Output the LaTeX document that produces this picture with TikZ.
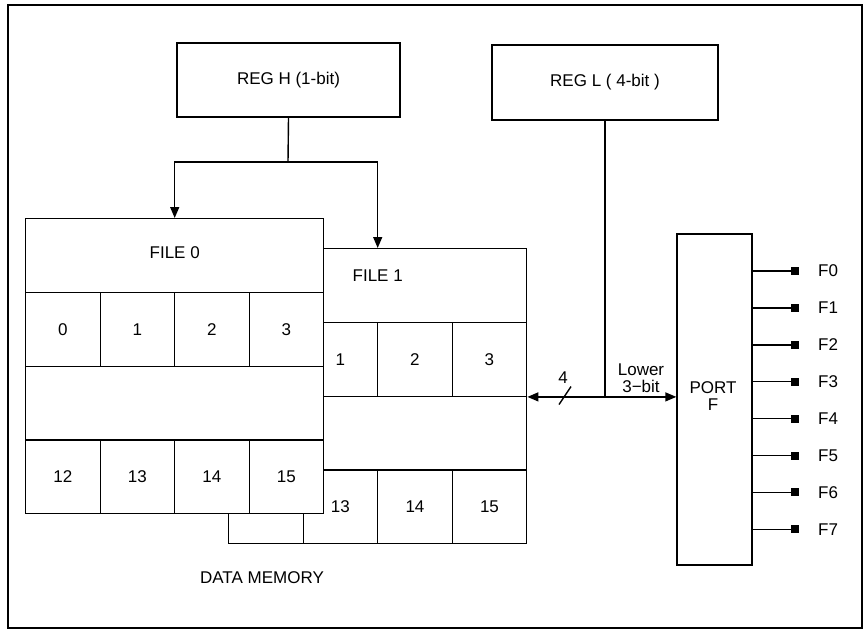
\documentclass[tikz,border=0pt]{standalone}
\usepackage{fontspec}
\setmainfont{Liberation Sans}
\usetikzlibrary{arrows.meta}
\begin{document}
\begin{tikzpicture}[x=1pt,y=-1pt,
  every node/.style={font=\fontsize{17}{17.5}\selectfont},
  ln/.style={line width=1.4pt},
  box/.style={draw, line width=1.4pt, fill=white, inner sep=0pt},
  cell/.style={box, minimum width=74.5pt, minimum height=73.75pt, anchor=north west},
  wide/.style={box, minimum width=298pt, minimum height=73.75pt, anchor=north west},
  arr/.style={line width=1.4pt, -{Triangle[length=11pt,width=9pt]}},
  darr/.style={line width=1.4pt, {Triangle[length=11pt,width=9pt]}-{Triangle[length=11pt,width=9pt]}},
  pinsq/.style={fill=black, minimum width=8pt, minimum height=8pt, inner sep=0pt},
  txt/.style={inner sep=0pt}]
\useasboundingbox (0,0) rectangle (865,638);
% outer frame
\draw[line width=1.6pt] (8,5) rectangle (862,628);

% registers
\node[box, minimum width=223pt, minimum height=74pt] (regh) at (288.5,80) {REG H (1-bit)};
\node[box, minimum width=226pt, minimum height=75pt] (regl) at (605,82.5) {REG L ( 4-bit )};

% FILE 1 (behind)
\begin{scope}[shift={(228,248)}]
  \node[wide] (f1t) at (0,0) {};
  \foreach \i/\t in {0/,1/1,2/2,3/3} \node[cell] (f1a\i) at (74.5*\i,73.75) {\t};
  \node[wide] (f1m) at (0,147.5) {};
  \foreach \i/\t in {0/,1/13,2/14,3/15} \node[cell] (f1b\i) at (74.5*\i,221.25) {\t};
\end{scope}
\node[txt] (f1lab) at ([yshift=10pt]f1t.center) {FILE 1};

% FILE 0 (front)
\begin{scope}[shift={(25,218)}]
  \node[wide] (f0t) at (0,0) {};
  \foreach \i/\t in {0/0,1/1,2/2,3/3} \node[cell] (f0a\i) at (74.5*\i,73.75) {\t};
  \node[wide] (f0m) at (0,147.5) {};
  \foreach \i/\t in {0/12,1/13,2/14,3/15} \node[cell] (f0b\i) at (74.5*\i,221.25) {\t};
\end{scope}
\node[txt] (f0lab) at ([yshift=3pt]f0t.center) {FILE 0};

\node[txt] (dm) at (262,578) {DATA MEMORY};

% PORT F
\node[box, minimum width=75pt, minimum height=331pt] (portf) at (714.5,399.5) {};
\node[txt, align=center] (portlab) at (713,396) {PORT\\F};

% REG H to files
\coordinate (split) at (288,162);
\draw[ln] (regh.south) -- (split);
\draw[arr] (split) -| (f0t.north);
\draw[arr] (split) -| (f1t.north);

% bus
\coordinate (busl) at (f1a3.south east);
\coordinate (busr) at (busl -| portf.west);
\draw[darr] (busl) -- (busr);
\coordinate (junc) at (regl.south |- busl);
\draw[ln] (regl.south) -- (junc);
\coordinate (slash) at (565,395.5);
\draw[ln] ([xshift=-6pt,yshift=-9pt]slash) -- ([xshift=6pt,yshift=9pt]slash);
\node[txt] (four) at (563,378) {4};
\node[txt, align=center] (lower) at (641,378) {Lower\\3−bit};

% pins
\foreach \i in {0,...,7} {
  \node[pinsq] (p\i) at (795,271+36.9*\i) {};
  \draw[ln] (portf.east |- p\i) -- (p\i);
  \node[txt, anchor=west] (pl\i) at (818,271+36.9*\i) {F\i};
}
\end{tikzpicture}
\end{document}
